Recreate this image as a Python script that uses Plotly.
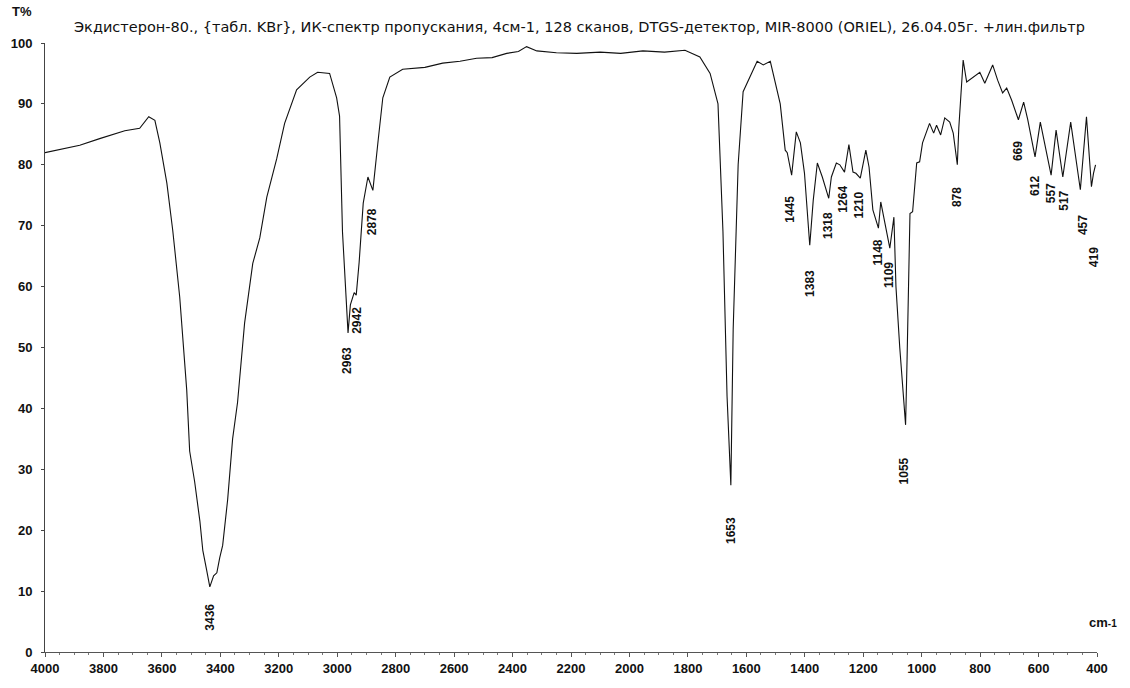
import plotly.graph_objects as go

# Spectrum: wavenumber (cm-1) and transmittance (%)
wavenumber = [4000, 3950, 3881, 3813, 3768, 3727, 3676, 3659, 3645, 3624, 3607, 3583, 3563,
              3539, 3522, 3515, 3505, 3488, 3470, 3460, 3447, 3436, 3423, 3412, 3402, 3392,
              3375, 3358, 3341, 3324, 3317, 3289, 3265, 3241, 3207, 3180, 3139, 3094, 3067,
              3026, 3002, 2992, 2982, 2963, 2955, 2942, 2935, 2925, 2911, 2895, 2878, 2860,
              2844, 2820, 2776, 2700, 2639, 2580, 2523, 2470, 2420, 2380, 2352, 2317, 2250,
              2180, 2100, 2030, 1954, 1880, 1810, 1759, 1724, 1697, 1680, 1666, 1653, 1645,
              1628, 1611, 1563, 1542, 1518, 1484, 1467, 1460, 1445, 1429, 1415, 1401, 1383,
              1371, 1357, 1340, 1318, 1309, 1292, 1280, 1264, 1249, 1235, 1225, 1210, 1191,
              1180, 1167, 1148, 1140, 1130, 1109, 1095, 1088, 1075, 1061, 1055, 1050, 1044,
              1040, 1031, 1017, 1007, 997, 973, 959, 949, 935, 921, 904, 892, 878, 873, 866,
              858, 846, 825, 801, 784, 757, 740, 723, 709, 692, 669, 651, 637, 612, 594, 557,
              540, 517, 490, 457, 436, 419, 412, 405]
transmittance = [82.0, 82.5, 83.2, 84.3, 85.0, 85.6, 86.0, 87.0, 87.9, 87.3, 83.6, 77.0, 69.3,
                 58.3, 48.4, 43.0, 33.0, 28.0, 21.5, 16.7, 13.5, 10.7, 12.5, 13.0, 15.5, 17.5,
                 25.0, 35.0, 41.0, 51.0, 54.0, 63.8, 68.0, 74.7, 81.0, 86.8, 92.3, 94.4, 95.2,
                 95.0, 91.0, 88.0, 69.0, 52.4, 57.0, 59.0, 58.6, 64.0, 73.7, 78.0, 75.8, 84.0,
                 91.0, 94.4, 95.7, 96.0, 96.7, 97.0, 97.5, 97.6, 98.3, 98.6, 99.4, 98.7, 98.4,
                 98.3, 98.5, 98.3, 98.7, 98.5, 98.8, 97.7, 95.0, 90.0, 69.0, 42.0, 27.4, 53.0,
                 80.0, 92.0, 97.0, 96.4, 97.0, 90.0, 82.4, 82.0, 78.3, 85.4, 83.6, 78.6, 66.8,
                 74.2, 80.3, 78.0, 74.5, 78.0, 80.3, 80.0, 78.8, 83.3, 78.8, 78.6, 77.8, 82.4,
                 79.6, 72.6, 69.6, 73.9, 71.4, 66.3, 71.4, 60.0, 50.0, 40.0, 37.3, 48.0, 62.0,
                 72.0, 72.3, 80.3, 80.5, 83.6, 86.8, 85.2, 86.5, 84.9, 87.7, 87.0, 85.2, 80.0,
                 86.0, 90.6, 97.2, 93.6, 94.4, 95.2, 93.4, 96.4, 93.9, 91.8, 92.6, 90.6, 87.4,
                 90.3, 87.4, 81.3, 87.0, 78.3, 85.7, 78.0, 87.0, 75.9, 87.9, 76.4, 78.6, 80.0]

# Labelled peaks
peak_wn = [3436, 2963, 2942, 2878, 1653, 1445, 1383, 1318, 1264, 1210, 1148, 1109, 1055,
           878, 669, 612, 557, 517, 457, 419]
peak_t = [10.7, 52.4, 59.0, 75.8, 27.4, 78.3, 66.8, 74.5, 78.8, 77.8, 69.6, 66.3, 37.3,
          80.0, 87.4, 81.3, 78.3, 78.0, 75.9, 76.4]
# label placement (pixels below the peak, horizontal nudge)
peak_label_gap = [30, 28, 28, 31, 45, 34, 38, 27, 27, 27, 24, 27, 46,
                  32, 31, 29, 18, 24, 35, 70]
peak_label_dx = [0, -1, 3, 0, 0, -1, 0, 0, -1, -1, 0, -1, -2,
                 -1, -1, 0, 0, 1, 2, 2]

x_ticks = list(range(4000, 399, -200))
y_ticks = list(range(0, 101, 10))

title_text = ("Экдистерон-80., {табл. KBr}, ИК-спектр пропускания, 4см-1, 128 сканов, "
              "DTGS-детектор, MIR-8000 (ORIEL), 26.04.05г. +лин.фильтр")

fig = go.Figure()
fig.add_trace(go.Scatter(x=wavenumber, y=transmittance, mode="lines",
                         line=dict(color="#111111", width=1.1), hoverinfo="x+y",
                         showlegend=False))

W, H = 1130, 688
L, R, T, B = 45, 33, 43, 36
pw, ph = W - L - R, H - T - B

lab_font = dict(family="Liberation Sans", size=12, color="#111111", weight="bold")
annotations = []
for wn, tv, gap, dx in zip(peak_wn, peak_t, peak_label_gap, peak_label_dx):
    annotations.append(dict(x=wn, y=tv, xref="x", yref="y", text=str(wn), showarrow=False,
                            textangle=-90, yshift=-gap, xshift=dx, xanchor="center",
                            yanchor="middle", font=lab_font))

annotations.append(dict(x=(72 - L) / pw, y=(H - B - 27) / ph, xref="paper", yref="paper",
                        text=title_text, showarrow=False, xanchor="left", yanchor="middle",
                        font=dict(family="DejaVu Sans", size=14.5, color="#111111")))
annotations.append(dict(x=(34 - L) / pw, y=(H - B - 12) / ph, xref="paper", yref="paper",
                        text="<b>T%</b>", showarrow=False, xanchor="right", yanchor="middle",
                        font=dict(family="Liberation Sans", size=13, color="#111111")))
annotations.append(dict(x=(1087 - L) / pw, y=(H - B - 622) / ph, xref="paper", yref="paper",
                        text="<b>cm</b><b><span style='font-size:10px'>-1</span></b>",
                        showarrow=False, xanchor="left", yanchor="middle",
                        font=dict(family="Liberation Sans", size=13, color="#111111")))

tick_font = dict(family="Liberation Sans", size=13, color="#111111", weight="bold")
fig.update_layout(
    width=W, height=H, autosize=False,
    margin=dict(l=L, r=R, t=T, b=B, pad=0),
    paper_bgcolor="white", plot_bgcolor="white",
    annotations=annotations,
    xaxis=dict(range=[4000, 400], tickvals=x_ticks, ticktext=[str(v) for v in x_ticks],
               showgrid=False, zeroline=False, showline=True, linecolor="#555555",
               linewidth=1, ticks="outside", ticklen=4, tickcolor="#555555",
               minor=dict(ticks="outside", ticklen=2, dtick=50, tickcolor="#777777"),
               ticklabelstandoff=0, tickfont=tick_font, automargin=False),
    yaxis=dict(range=[0, 100], tickvals=y_ticks, showgrid=False, zeroline=False,
               showline=True, linecolor="#444444", linewidth=1, ticks="outside",
               ticklen=3, tickcolor="#444444", ticklabelstandoff=6, tickfont=tick_font,
               automargin=False),
)

fig.write_html("out.html")
